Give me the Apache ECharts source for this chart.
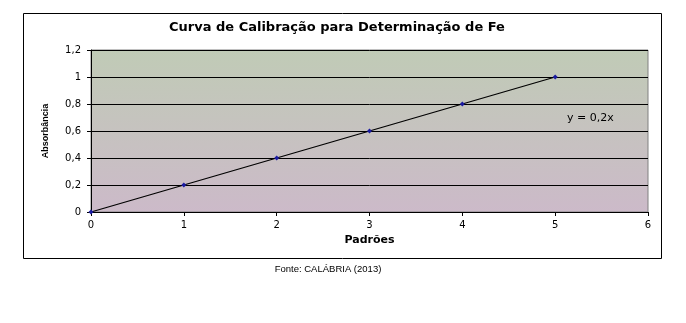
<!DOCTYPE html>
<html><head><meta charset="utf-8">
<script src="https://cdn.jsdelivr.net/npm/echarts@6/dist/echarts.min.js"></script>
<style>html,body{margin:0;padding:0;background:#fff}#c{width:686px;height:323px}</style>
</head><body><div id="c"></div>
<script>
const padroes = [0, 1, 2, 3, 4, 5];
const absorbancia = [0, 0.2, 0.4, 0.6, 0.8, 1.0];
const equationLabel = 'y = 0,2x';
const titleText = 'Curva de Calibração para Determinação de Fe';
const sourceText = 'Fonte: CALÁBRIA (2013)';

const chart = echarts.init(document.getElementById('c'));
const fmt = v => String(Math.round(v * 10) / 10).replace('.', ',');
chart.setOption({
  animation: false,
  backgroundColor: '#fff',
  title: {
    text: titleText, left: 164, top: 16,
    textStyle: { fontFamily: 'DejaVu Sans', fontSize: 13, fontWeight: 'bold', color: '#000' }
  },
  grid: {
    left: 91, right: 38, top: 50, bottom: 111, show: true,
    borderColor: '#808080', borderWidth: 1,
    backgroundColor: new echarts.graphic.LinearGradient(0, 0, 0, 1, [
      { offset: 0, color: '#c0cbb6' },
      { offset: 1, color: '#ccbac9' }
    ])
  },
  xAxis: {
    type: 'value', min: 0, max: 6, interval: 1,
    name: 'Padrões', nameLocation: 'middle', nameGap: 22,
    nameTextStyle: { fontFamily: 'DejaVu Sans', fontSize: 11, fontWeight: 'bold', color: '#000' },
    axisLine: { lineStyle: { color: '#000' } },
    axisTick: { show: true, length: 4, lineStyle: { color: '#000' } },
    axisLabel: { fontFamily: 'DejaVu Sans', fontSize: 10, color: '#000', margin: 8 },
    splitLine: { show: false }
  },
  yAxis: {
    type: 'value', min: 0, max: 1.2, interval: 0.2,
    name: 'Absorbância', nameLocation: 'middle', nameGap: 41,
    nameTextStyle: { fontFamily: 'Liberation Sans', fontSize: 9, fontWeight: 'bold', color: '#000' },
    axisLine: { show: true, lineStyle: { color: '#000' } },
    axisTick: { show: true, length: 4, lineStyle: { color: '#000' } },
    axisLabel: { fontFamily: 'DejaVu Sans', fontSize: 10, color: '#000', margin: 10, formatter: fmt },
    splitLine: { show: true, lineStyle: { color: '#000', width: 1 } }
  },
  series: [{
    type: 'line',
    data: padroes.map((x, i) => [x, absorbancia[i]]),
    lineStyle: { color: '#000', width: 1.3 },
    symbol: 'diamond', symbolSize: 5, showSymbol: true,
    itemStyle: { color: '#1a1aa0' }
  }],
  graphic: [
    { type: 'rect', shape: { x: 23.5, y: 13.5, width: 638, height: 245 },
      style: { fill: null, stroke: '#000', lineWidth: 1 }, z: -1 },
    { type: 'text', x: 567, y: 113,
      style: { text: equationLabel, fontFamily: 'DejaVu Sans', fontSize: 11, fill: '#000' } },
    { type: 'text', x: 328, y: 264,
      style: { text: sourceText, fontFamily: 'Liberation Sans', fontSize: 9.5, fill: '#000', align: 'center' } }
  ]
});
</script></body></html>
